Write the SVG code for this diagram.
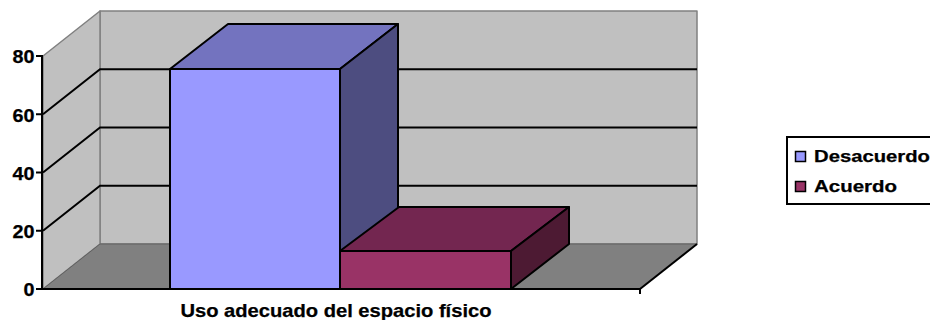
<svg xmlns="http://www.w3.org/2000/svg" width="930" height="320" viewBox="0 0 930 320">
<style>
.wall{fill:#c0c0c0;stroke:#808080;stroke-width:1.5;stroke-linejoin:round}
.floor{fill:#808080;stroke:#606060;stroke-width:1}
.grid{stroke:#000;stroke-width:2;fill:none}
.ax{stroke:#000;stroke-width:2;fill:none}
.bar{stroke:#000;stroke-width:2;stroke-linejoin:round}
.t{font-family:"Liberation Sans",Arial,sans-serif;font-weight:bold;fill:#000;stroke:#000;stroke-width:0.25}
.num{font-size:17.5px;text-anchor:end}
</style>
<rect width="930" height="320" fill="#fff"/>
<g id="walls">
<polygon class="wall" points="100,11 697,11 697,244 100,244"/>
<polygon class="wall" points="43,56 100,11 100,244 43,289"/>
<polygon class="floor" points="43,289 100,244 697,244 640,289"/>
<line x1="697" y1="244" x2="640" y2="289" stroke="#000" stroke-width="2"/>
</g>
<g id="gridlines">
<polyline class="grid" points="43,230.75 100,185.75 697,185.75"/>
<polyline class="grid" points="43,172.5 100,127.5 697,127.5"/>
<polyline class="grid" points="43,114.25 100,69.25 697,69.25"/>
</g>
<g id="bar-desacuerdo">
<polygon class="bar" fill="#9999ff" points="170,69 340,69 340,289 170,289"/>
<polygon class="bar" fill="#7373bf" points="170,69 228,24 398,24 340,69"/>
<polygon class="bar" fill="#4d4d80" points="340,69 398,24 398,244 340,289"/>
</g>
<g id="bar-acuerdo">
<polygon class="bar" fill="#993366" points="340,251 511,251 511,289 340,289"/>
<polygon class="bar" fill="#732650" points="340,251 399,207 569,207 511,251"/>
<polygon class="bar" fill="#4d1a33" points="511,251 569,207 569,244 511,289"/>
</g>
<g id="axes">
<line class="ax" x1="42" y1="56" x2="42" y2="290"/>
<line class="ax" x1="42" y1="289" x2="640" y2="289"/>
<line class="ax" x1="36" y1="56" x2="43" y2="56"/>
<line class="ax" x1="36" y1="114.25" x2="43" y2="114.25"/>
<line class="ax" x1="36" y1="172.5" x2="43" y2="172.5"/>
<line class="ax" x1="36" y1="230.75" x2="43" y2="230.75"/>
<line class="ax" x1="36" y1="289" x2="43" y2="289"/>
<line class="ax" x1="640" y1="288" x2="640" y2="294"/>
</g>
<g id="axis-labels">
<text class="t num" x="34.5" y="63.3" textLength="22" lengthAdjust="spacingAndGlyphs">80</text>
<text class="t num" x="34.5" y="121.5" textLength="22" lengthAdjust="spacingAndGlyphs">60</text>
<text class="t num" x="34.5" y="179.8" textLength="22" lengthAdjust="spacingAndGlyphs">40</text>
<text class="t num" x="34.5" y="238" textLength="22" lengthAdjust="spacingAndGlyphs">20</text>
<text class="t num" x="34.5" y="296.3" textLength="11" lengthAdjust="spacingAndGlyphs">0</text>
<text class="t" x="180.5" y="316.7" font-size="18.5" textLength="311" lengthAdjust="spacingAndGlyphs">Uso adecuado del espacio físico</text>
</g>
<g id="legend">
<rect x="787" y="137" width="150" height="67" fill="#fff" stroke="#000" stroke-width="2"/>
<rect x="795.5" y="151.5" width="10" height="10" fill="#9999ff" stroke="#000" stroke-width="1.5"/>
<text class="t" x="814" y="161.7" font-size="16.5" textLength="116" lengthAdjust="spacingAndGlyphs">Desacuerdo</text>
<rect x="795.5" y="181.5" width="10" height="10" fill="#993366" stroke="#000" stroke-width="1.5"/>
<text class="t" x="814" y="191.7" font-size="16.5" textLength="83" lengthAdjust="spacingAndGlyphs">Acuerdo</text>
</g>
</svg>
